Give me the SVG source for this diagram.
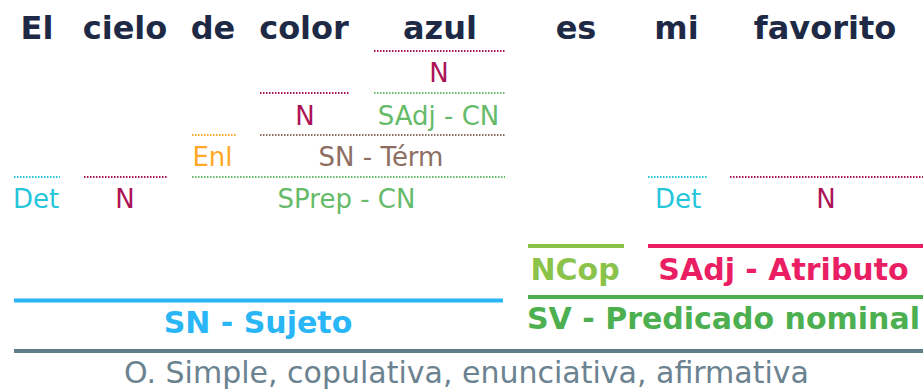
<svg xmlns="http://www.w3.org/2000/svg" width="923" height="390" viewBox="0 0 923 390">
<style>
text{font-family:"DejaVu Sans",Verdana,sans-serif;text-anchor:middle}
.w{font-size:32px;font-weight:bold;fill:#1e2a45}
.s{font-size:26px}
.b{font-size:30px;font-weight:bold}
.d{stroke-width:2;stroke-dasharray:1.5 1.5;fill:none}
.l{stroke-width:4;fill:none}
.cy{fill:#26c6da}.pk{fill:#ad1457}.or{fill:#ffa726}.br{fill:#8d6e63}.gr{fill:#66bb6a}
</style>
<rect width="923" height="390" fill="#fff"/>
<g id="words">
<text class="w" x="37" y="39">El</text>
<text class="w" x="125" y="39">cielo</text>
<text class="w" x="213" y="39">de</text>
<text class="w" x="304" y="39">color</text>
<text class="w" x="440" y="39">azul</text>
<text class="w" x="576" y="39">es</text>
<text class="w" x="676.5" y="39">mi</text>
<text class="w" x="825" y="39">favorito</text>
</g>
<g id="connectors">
<line class="d" x1="374" y1="51" x2="505" y2="51" stroke="#ad1457"/>
<line class="d" x1="260" y1="93" x2="350" y2="93" stroke="#ad1457"/>
<line class="d" x1="374" y1="93" x2="505" y2="93" stroke="#66bb6a"/>
<line class="d" x1="192" y1="135" x2="237" y2="135" stroke="#ffa726"/>
<line class="d" x1="260" y1="135" x2="505" y2="135" stroke="#8d6e63"/>
<line class="d" x1="14" y1="177" x2="60" y2="177" stroke="#26c6da"/>
<line class="d" x1="84" y1="177" x2="168" y2="177" stroke="#ad1457"/>
<line class="d" x1="192" y1="177" x2="505" y2="177" stroke="#66bb6a"/>
<line class="d" x1="648" y1="177" x2="707" y2="177" stroke="#26c6da"/>
<line class="d" x1="730" y1="177" x2="923" y2="177" stroke="#ad1457"/>
<line class="l" x1="528" y1="246" x2="624" y2="246" stroke="#8bc34a"/>
<line class="l" x1="648" y1="246" x2="923" y2="246" stroke="#e91e63"/>
<line class="l" x1="14" y1="300.5" x2="503" y2="300.5" stroke="#29b6f6"/>
<line class="l" x1="528" y1="297" x2="923" y2="297" stroke="#4caf50"/>
<line class="l" x1="14" y1="351" x2="923" y2="351" stroke="#607d8b"/>
</g>
<g id="n-azul-n"><text class="s pk" x="439" y="82">N</text></g>
<g id="n-color-n"><text class="s pk" x="305" y="125">N</text></g>
<g id="n-sadj-cn"><text class="s gr" x="438.5" y="125">SAdj - CN</text></g>
<g id="n-enl"><text class="s or" x="212.5" y="166">Enl</text></g>
<g id="n-sn-term"><text class="s br" x="381" y="166">SN - Térm</text></g>
<g id="n-det1"><text class="s cy" x="36" y="208">Det</text></g>
<g id="n-cielo-n"><text class="s pk" x="125" y="208">N</text></g>
<g id="n-sprep"><text class="s gr" x="346.5" y="208">SPrep - CN</text></g>
<g id="n-det2"><text class="s cy" x="678" y="208">Det</text></g>
<g id="n-fav-n"><text class="s pk" x="826" y="208">N</text></g>
<g id="n-ncop"><text class="b" x="575" y="280" fill="#8bc34a">NCop</text></g>
<g id="n-atrib"><text class="b" x="783.5" y="280" fill="#e91e63">SAdj - Atributo</text></g>
<g id="n-sujeto"><text class="b" x="258" y="333" fill="#29b6f6">SN - Sujeto</text></g>
<g id="n-pred"><text class="b" x="723.5" y="329" fill="#4caf50">SV - Predicado nominal</text></g>
<g id="n-oracion"><text x="466.5" y="383" font-size="30" fill="#6b8290">O. Simple, copulativa, enunciativa, afirmativa</text></g>
</svg>
